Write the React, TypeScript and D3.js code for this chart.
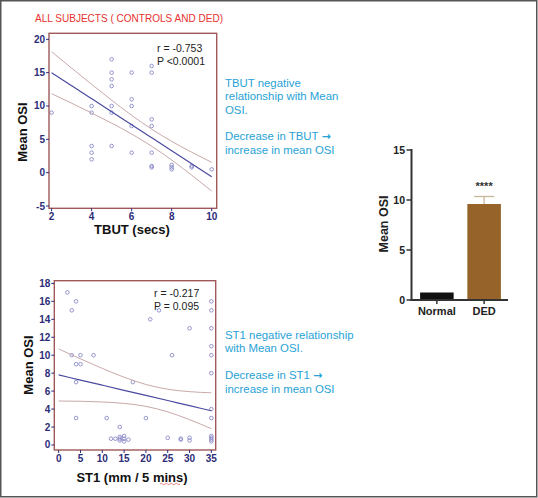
import React from "react";
import * as d3 from "d3";

// ---------- DATA ----------
const tbutX = [2, 4, 4, 4, 4, 4, 5, 5, 5, 5, 5, 5, 5, 6, 6, 6, 6, 6, 7, 7, 7, 7, 7, 7, 7, 8, 8, 8, 9, 9, 10];
const tbutY = [9, 10, 9, 4, 3, 2, 17, 15, 14, 13, 10, 9, 4, 15, 11, 10, 7, 3, 16, 15, 8, 7, 3, 1, 0.8, 1.15, 0.8, 0.5, 1, 0.8, 0.5];
const tbutBandX = [2, 3, 4, 5, 6, 7, 8, 9, 10];
const tbutFit = [15, 13.05, 11.1, 9.15, 7.2, 5.25, 3.3, 1.35, -0.6];
const tbutUpper = [18.15, 15.68, 13.25, 10.87, 8.6, 6.53, 4.7, 3.07, 1.55];
const tbutLower = [11.85, 10.42, 8.95, 7.43, 5.8, 3.97, 1.9, -0.37, -2.75];
const tbutXTicks = [2, 4, 6, 8, 10];
const tbutYTicks = [-5, 0, 5, 10, 15, 20];

const st1X = [2, 3, 4, 3, 4, 5, 5, 8, 4, 4, 11, 14, 17, 20, 21, 23, 26, 30, 25, 28, 28, 30, 30, 35, 35, 35, 35, 35, 35, 35, 35, 35, 35, 35, 35, 12, 13, 14, 14, 14, 15, 15, 15, 16];
const st1Y = [17, 15, 16, 10, 9, 10, 9, 10, 7, 3, 3, 2, 7, 3, 14, 15, 10, 13, 0.8, 0.7, 0.6, 0.8, 0.5, 16, 15, 13, 11, 10, 8, 4, 3, 1, 0.8, 0.6, 0.4, 0.7, 0.7, 0.9, 0.7, 0.5, 1.0, 0.7, 0.4, 0.6];
const st1BandX = [0, 5, 10, 15, 20, 25, 30, 35];
const st1Fit = [7.8, 7.23, 6.66, 6.09, 5.52, 4.95, 4.38, 3.81];
const st1Upper = [10.7, 9.59, 8.53, 7.55, 6.74, 6.21, 5.94, 5.81];
const st1Lower = [4.9, 4.87, 4.79, 4.63, 4.3, 3.69, 2.82, 1.81];
const st1XTicks = [0, 5, 10, 15, 20, 25, 30, 35];
const st1YTicks = [0, 2, 4, 6, 8, 10, 12, 14, 16, 18];

const barCats = ["Normal", "DED"];
const barMeans = [0.75, 9.6];
const barErr = [0, 0.75];
const barYTicks = [0, 5, 10, 15];

const topNotes = ["TBUT negative", "relationship with Mean", "OSI.", "", "Decrease in TBUT ", "increase in mean OSI"];
const topArrow = [false, false, false, false, true, false];
const bottomNotes = ["ST1 negative relationship", "with Mean OSI.", "", "Decrease in ST1 ", "increase in mean OSI"];
const bottomArrow = [false, false, false, true, false];

// ---------- STYLE ----------
const SANS = "'Liberation Sans', Arial, sans-serif";
const NAVY = "#2c2c78";
const FRAME = "#a0585a";
const PT = "#8a8ac8";
const FIT = "#4a4aa0";
const BAND = "#c9a9a9";
const CYAN = "#27a2d6";

type ScatterProps = {
  xs: number[]; ys: number[]; bx: number[]; fit: number[]; up: number[]; lo: number[];
  xDom: [number, number]; yDom: [number, number]; x0: number; x1: number; y0: number; y1: number;
  xTicks: number[]; yTicks: number[]; r: string; p: string; rx: number; ry: number;
};

function Scatter(pr: ScatterProps) {
  const x = d3.scaleLinear().domain(pr.xDom).range([pr.x0, pr.x1]);
  const y = d3.scaleLinear().domain(pr.yDom).range([pr.y1, pr.y0]);
  const curve = (vals: number[]) =>
    d3.line<number>().x((_, i) => x(pr.bx[i])).y((v) => y(v)).curve(d3.curveMonotoneX)(vals) || "";
  return (
    <g>
      <defs>
        <clipPath id={`clip${pr.y0}`}>
          <rect x={pr.x0} y={pr.y0} width={pr.x1 - pr.x0} height={pr.y1 - pr.y0} />
        </clipPath>
      </defs>
      <g clipPath={`url(#clip${pr.y0})`}>
        {pr.xs.map((xv, i) => (
          <circle key={i} cx={x(xv)} cy={y(pr.ys[i])} r={1.8} fill="none" stroke={PT} strokeWidth={0.9} />
        ))}
        <path d={curve(pr.up)} fill="none" stroke={BAND} strokeWidth={1} />
        <path d={curve(pr.lo)} fill="none" stroke={BAND} strokeWidth={1} />
        <path d={curve(pr.fit)} fill="none" stroke={FIT} strokeWidth={1.2} />
      </g>
      <rect x={pr.x0} y={pr.y0} width={pr.x1 - pr.x0} height={pr.y1 - pr.y0} fill="none" stroke={FRAME} strokeWidth={1.4} />
      {pr.yTicks.map((t) => (
        <g key={t}>
          <line x1={pr.x0 - 3} x2={pr.x0} y1={y(t)} y2={y(t)} stroke={NAVY} strokeWidth={1} />
          <text x={pr.x0 - 4} y={y(t) + 3.5} textAnchor="end" fontFamily={SANS} fontWeight="bold" fontSize={10} fill={NAVY}>{t}</text>
        </g>
      ))}
      {pr.xTicks.map((t) => (
        <g key={t}>
          <line x1={x(t)} x2={x(t)} y1={pr.y1} y2={pr.y1 + 3} stroke={NAVY} strokeWidth={1} />
          <text x={x(t)} y={pr.y1 + 12} textAnchor="middle" fontFamily={SANS} fontWeight="bold" fontSize={10} fill={NAVY}>{t}</text>
        </g>
      ))}
      <text x={pr.rx} y={pr.ry} fontFamily={SANS} fontSize={10.5} fill="#222">{pr.r}</text>
      <text x={pr.rx} y={pr.ry + 13} fontFamily={SANS} fontSize={10.5} fill="#222">{pr.p}</text>
    </g>
  );
}

function Note({ x, y, s, arrow }: { x: number; y: number; s: string; arrow: boolean }) {
  return (
    <text x={x} y={y} fontFamily={SANS} fontSize={11.4} fill={CYAN}>
      {s}
      {arrow && <tspan fontFamily="'DejaVu Sans', sans-serif" fontWeight="bold" fontSize={11}>{"\u2192"}</tspan>}
    </text>
  );
}

export default function App() {
  const by = d3.scaleLinear().domain([0, 15]).range([300, 150]);
  const bx = d3.scaleBand().domain(barCats).range([413, 508]).paddingInner(0.29).paddingOuter(0.15);
  const barColors = ["#111111", "#96642b"];
  return (
    <svg width={538} height={498} style={{ position: "absolute", left: 0, top: 0, background: "#fff" }}>
      <rect x={0.75} y={0.75} width={536} height={496} fill="#fff" stroke="#555" strokeWidth={1.5} />
      <text x={35} y={22} fontFamily={SANS} fontSize={11.5} fill="#e8322f" textLength={188} lengthAdjust="spacingAndGlyphs">
        ALL SUBJECTS ( CONTROLS AND DED)
      </text>

      <Scatter xs={tbutX} ys={tbutY} bx={tbutBandX} fit={tbutFit} up={tbutUpper} lo={tbutLower}
        xDom={[1.87, 10.25]} yDom={[-5.34, 20.9]} x0={49} x1={216.7} y0={33.3} y1={208.3}
        xTicks={tbutXTicks} yTicks={tbutYTicks} r="r = -0.753" p="P <0.0001" rx={157} ry={52} />
      <text transform="translate(27,132) rotate(-90)" textAnchor="middle" fontFamily={SANS} fontWeight="bold" fontSize={13} fill="#111">Mean OSI</text>
      <text x={132} y={234} textAnchor="middle" fontFamily={SANS} fontWeight="bold" fontSize={13} fill="#111">TBUT (secs)</text>

      <Scatter xs={st1X} ys={st1Y} bx={st1BandX} fit={st1Fit} up={st1Upper} lo={st1Lower}
        xDom={[-1.0, 36.0]} yDom={[-0.56, 18.3]} x0={54.3} x1={215.7} y0={280.7} y1={450}
        xTicks={st1XTicks} yTicks={st1YTicks} r="r = -0.217" p="P = 0.095" rx={154} ry={297} />
      <text transform="translate(33,365) rotate(-90)" textAnchor="middle" fontFamily={SANS} fontWeight="bold" fontSize={13} fill="#111">Mean OSI</text>
      <text x={132} y={482} textAnchor="middle" fontFamily={SANS} fontWeight="bold" fontSize={13} fill="#111">ST1 (mm / 5 mins)</text>
      <path d="M160,484 q1.25,-1.5 2.5,0 t2.5,0 t2.5,0 t2.5,0 t2.5,0 t2.5,0 t2.5,0 t2.5,0" fill="none" stroke="#e05050" strokeWidth={0.7} />

      {topNotes.map((s, i) => (
        <Note key={i} x={225} y={87 + i * 13.3} s={s} arrow={topArrow[i]} />
      ))}
      {bottomNotes.map((s, i) => (
        <Note key={i} x={225} y={338.5 + i * 13.6} s={s} arrow={bottomArrow[i]} />
      ))}

      {/* bar chart */}
      {barCats.map((c, i) => (
        <g key={c}>
          {barErr[i] > 0 && (
            <g stroke="#c9b79c" strokeWidth={1.3}>
              <line x1={bx(c)! + bx.bandwidth() / 2} x2={bx(c)! + bx.bandwidth() / 2} y1={by(barMeans[i])} y2={by(barMeans[i] + barErr[i])} />
              <line x1={bx(c)! + bx.bandwidth() / 2 - 10} x2={bx(c)! + bx.bandwidth() / 2 + 10} y1={by(barMeans[i] + barErr[i])} y2={by(barMeans[i] + barErr[i])} />
            </g>
          )}
          <rect x={bx(c)} y={by(barMeans[i])} width={bx.bandwidth()} height={by(0) - by(barMeans[i])} fill={barColors[i]} />
          <line x1={bx(c)! + bx.bandwidth() / 2} x2={bx(c)! + bx.bandwidth() / 2} y1={300} y2={304} stroke="#333" strokeWidth={1.5} />
          <text x={bx(c)! + bx.bandwidth() / 2} y={315} textAnchor="middle" fontFamily={SANS} fontWeight="bold" fontSize={11} fill="#222">{c}</text>
        </g>
      ))}
      <text x={bx("DED")! + bx.bandwidth() / 2} y={190} textAnchor="middle" fontFamily={SANS} fontWeight="bold" fontSize={11} fill="#333">****</text>
      <line x1={411.5} x2={411.5} y1={by(15) - 1} y2={by(0) + 1} stroke="#333" strokeWidth={2} />
      <line x1={410.5} x2={508} y1={by(0)} y2={by(0)} stroke="#333" strokeWidth={2} />
      {barYTicks.map((t) => (
        <g key={t}>
          <line x1={406.5} x2={411} y1={by(t)} y2={by(t)} stroke="#333" strokeWidth={1.5} />
          <text x={405} y={by(t) + 3.8} textAnchor="end" fontFamily={SANS} fontWeight="bold" fontSize={10.5} fill="#222">{t}</text>
        </g>
      ))}
      <text transform="translate(388,224) rotate(-90)" textAnchor="middle" fontFamily={SANS} fontWeight="bold" fontSize={12.5} fill="#222">Mean OSI</text>
    </svg>
  );
}
